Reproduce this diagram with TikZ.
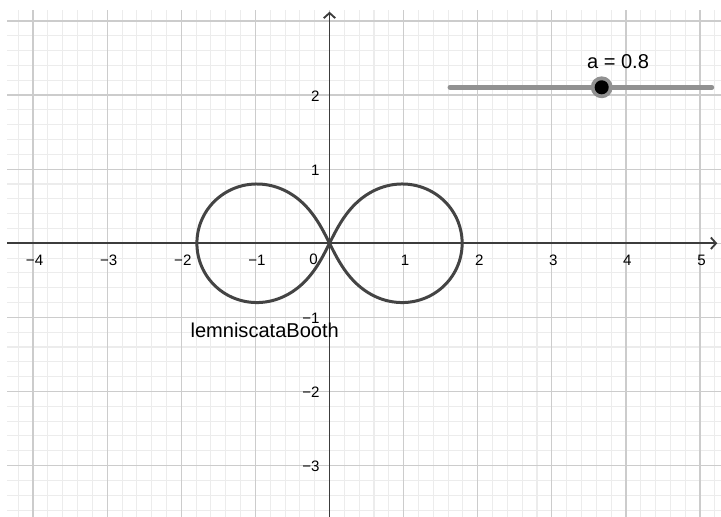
\documentclass[tikz,border=0pt]{standalone}
\usepackage{fontspec}
\setmainfont{Liberation Sans}
\usetikzlibrary{arrows.meta}

\definecolor{minorgrid}{RGB}{236,236,236}
\definecolor{majorgrid}{RGB}{204,204,204}
\definecolor{axiscol}{RGB}{60,60,60}
\definecolor{curvecol}{RGB}{68,68,68}
\definecolor{slidercol}{RGB}{145,145,145}

\tikzset{
    axis/.style={axiscol, line width=0.7pt, -{Straight Barb[length=2pt, width=4.4pt]}},
    ticklabel/.style={font=\fontsize{5.8}{7}\selectfont, inner sep=0pt},
    biglabel/.style={font=\fontsize{7.7}{9}\selectfont, inner sep=0pt},
}

\begin{document}
\begin{tikzpicture}

% Background and size
\useasboundingbox[fill=white] (-4.447,-3.694) rectangle (5.283,3.283);

% Grid
\draw[minorgrid, line width=0.4pt, step=0.2] (-4.352,-3.694) grid (5.283,3.148);
\draw[majorgrid, line width=0.5pt, step=1] (-4.352,-3.694) grid (5.283,3.148);

% Axes
\coordinate (xstart) at (-4.352,0);
\coordinate (xend) at (5.233,0);
\coordinate (ystart) at (0,-3.694);
\coordinate (yend) at (0,3.125);
\draw[axis] (xstart) -- (xend);
\draw[axis] (ystart) -- (yend);

% Tick labels
\foreach \x/\t [count=\i] in {-4/−4, -3/−3, -2/−2, -1/−1, 1/1, 2/2, 3/3, 4/4, 5/5} {
    \node[ticklabel] (xt\i) at (\x+0.02,-0.225) {\t};
}
\foreach \y/\t [count=\i] in {-3/−3, -2/−2, -1/−1, 1/1, 2/2} {
    \node[ticklabel, anchor=east] (yt\i) at (-0.128,\y-0.015) {\t};
}
\node[ticklabel, anchor=east] (origin) at (-0.15,-0.21) {0};

% Lemniscate of Booth
\draw[curvecol, line width=1.15pt, line join=round]
    plot[domain=0:360, samples=240, smooth]
    ({1.79*cos(\x)*sqrt(1-0.894*0.894*sin(\x)*sin(\x))}, {1.79*0.894*sin(\x)*cos(\x)}) -- cycle;
\node[biglabel, anchor=west] (curvename) at (-1.882,-1.17) {lemniscataBooth};

% Slider
\coordinate (slidestart) at (1.626,2.105);
\coordinate (slideend) at (5.158,2.105);
\draw[slidercol, line width=1.9pt, line cap=round] (slidestart) -- (slideend);
\fill[slidercol] (3.673,2.105) circle (4.2pt);
\fill[black] (3.673,2.105) circle (2.7pt);
\node[biglabel] (slidername) at (3.893,2.451) {a = 0.8};

\end{tikzpicture}
\end{document}
